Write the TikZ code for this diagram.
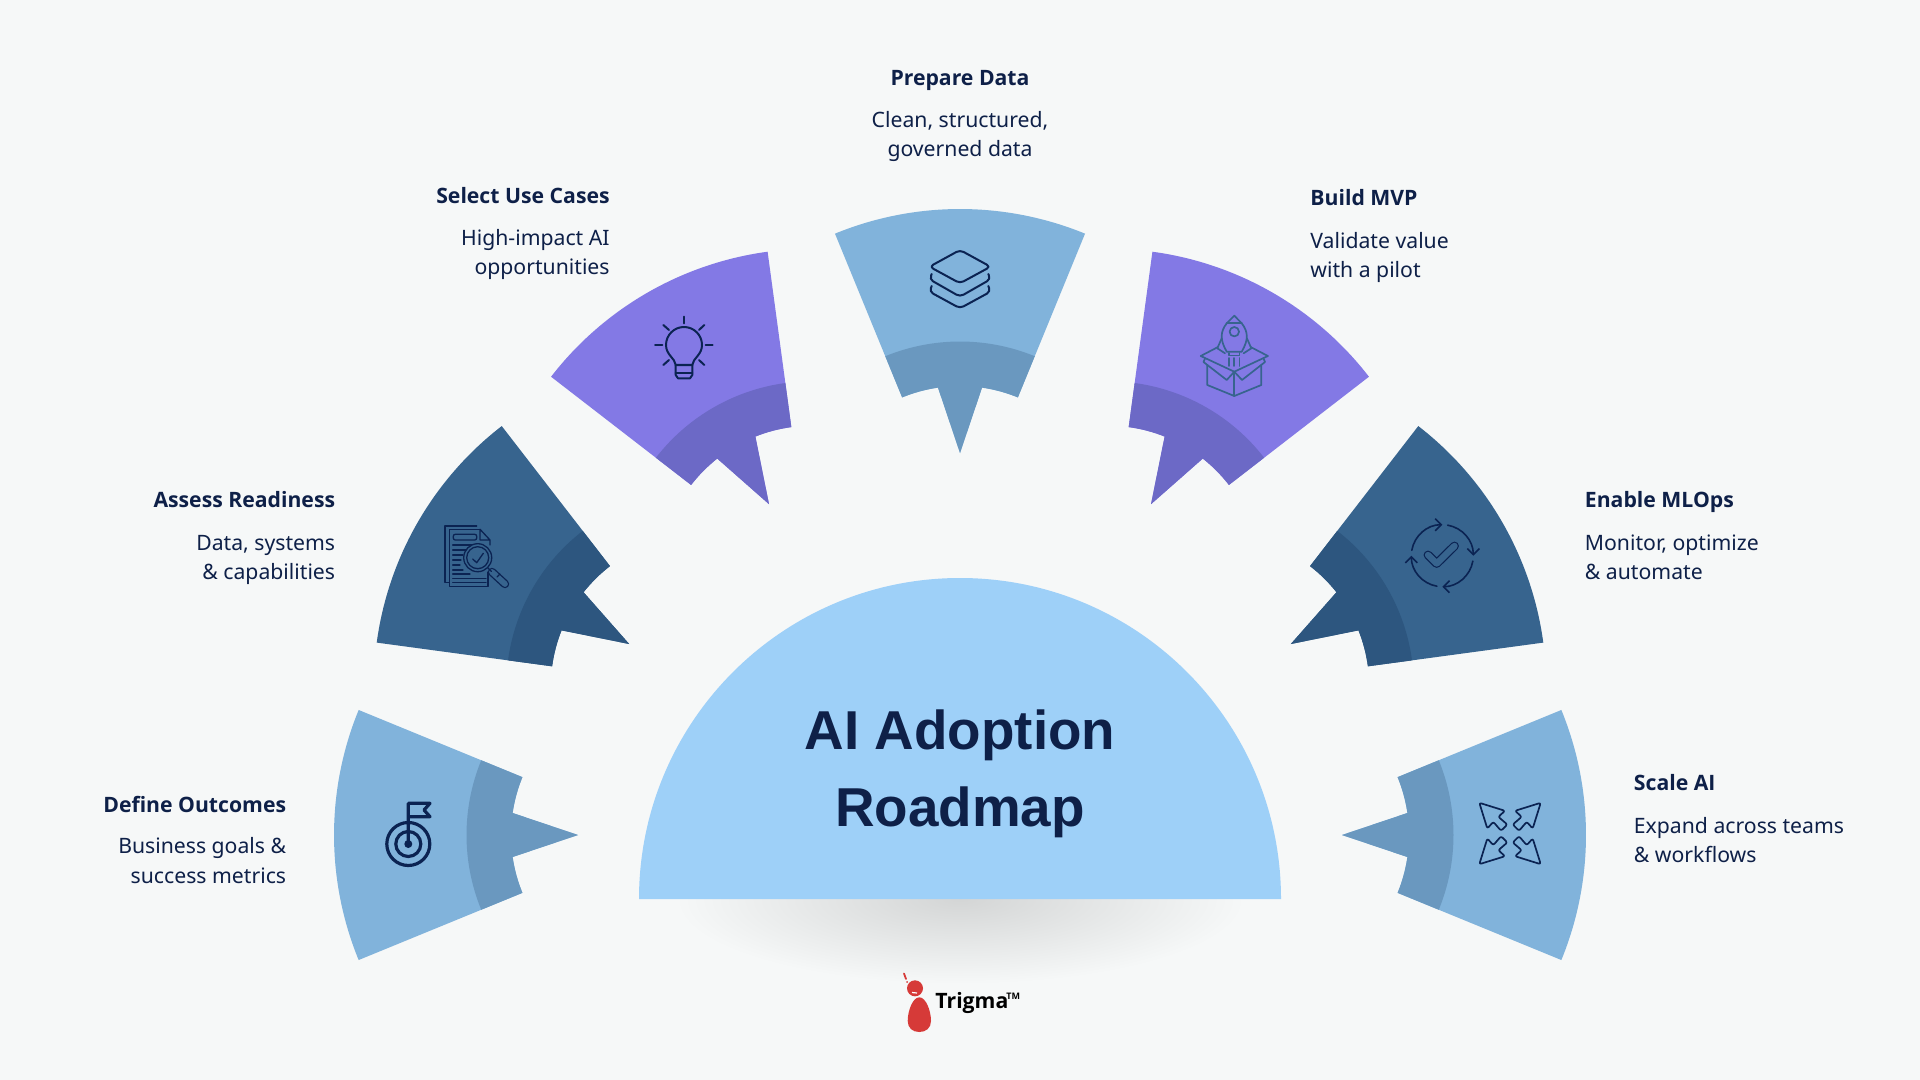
\documentclass[tikz,border=0pt]{standalone}
\usepackage{fontspec}
\setmainfont{Noto Sans}
\newfontfamily\headfont{Open Sans}
\newfontfamily\hubfont{Liberation Sans}
\usetikzlibrary{arrows.meta}

\definecolor{pagebg}{HTML}{F6F8F8}
\definecolor{hubc}{HTML}{9ED0F8}
\definecolor{skyc}{HTML}{81B3DB}
\definecolor{skyd}{HTML}{6A98BF}
\definecolor{navyc}{HTML}{37648E}
\definecolor{navyd}{HTML}{2D567F}
\definecolor{purpc}{HTML}{8379E5}
\definecolor{purpd}{HTML}{6C69C6}
\definecolor{inkc}{HTML}{0E2048}
\definecolor{iconc}{HTML}{0B2352}
\definecolor{logored}{HTML}{D63A38}

\begin{document}
\begin{tikzpicture}[
    x=0.5pt, y=0.5pt, yscale=-1,
    steptitle/.style={font=\headfont\fontsize{10.6}{13}\selectfont\bfseries, text=inkc, inner sep=0pt},
    stepdesc/.style={font=\fontsize{10.6}{14.6}\selectfont, text=inkc, inner sep=0pt},
    iconline/.style={draw=iconc, line width=1pt, line join=round, line cap=round},
    iconthin/.style={draw=iconc, line width=0.65pt, line join=round, line cap=round},
]

\fill[pagebg] (0,0) rectangle (1920,1080);
\useasboundingbox (0,0) rectangle (1920,1080);

% === Shadow under the hub ===
\begin{scope}
    \clip (600,899) rectangle (1320,1010);
    \shade[inner color=black!14!pagebg, outer color=pagebg] (960,899) ellipse (285 and 85);
\end{scope}

% === Hub ===
\fill[hubc] (639,899) arc (180:360:321) -- cycle;
\node[font=\hubfont\fontsize{27.4}{38.4}\selectfont\bfseries, text=inkc, align=center, inner sep=0pt] (hub) at (960,774) {AI Adoption\\Roadmap};

% === Wedges ===
\foreach \ang/\mainc/\shadec in {180/skyc/skyd, 210/navyc/navyd, 240/purpc/purpd, 270/skyc/skyd, 300/purpc/purpd, 330/navyc/navyd, 360/skyc/skyd} {
    \begin{scope}[shift={(960,835)}, rotate=\ang, shift={(296.5,0)}]
        \fill[\mainc] (-22.3:329.5) arc (-22.3:22.3:329.5) -- (22.3:152.5) arc (22.3:8.3:152.5)
            -- (85.5,0) -- (-8.3:152.5) arc (-8.3:-22.3:152.5) -- cycle;
        \fill[\shadec] (-22.3:197) arc (-22.3:22.3:197) -- (22.3:152.5) arc (22.3:8.3:152.5)
            -- (85.5,0) -- (-8.3:152.5) arc (-8.3:-22.3:152.5) -- cycle;
    \end{scope}
}

% === Labels ===
\node[steptitle, anchor=center] (prepT) at (960,80) {Prepare Data};
\node[stepdesc, anchor=center, align=center] (prepD) at (960,136.5) {Clean, structured,\\governed data};

\node[steptitle, anchor=east] (selT) at (610,196) {Select Use Cases};
\node[stepdesc, anchor=east, align=right] (selD) at (610,254.5) {High-impact AI\\opportunities};

\node[steptitle, anchor=west] (mvpT) at (1310,198) {Build MVP};
\node[stepdesc, anchor=west, align=left] (mvpD) at (1310,257.5) {Validate value\\with a pilot};

\node[steptitle, anchor=east] (assT) at (335.5,499.5) {Assess Readiness};
\node[stepdesc, anchor=east, align=right] (assD) at (335.5,560) {Data, systems\\\& capabilities};

\node[steptitle, anchor=west] (mloT) at (1584.5,502) {Enable MLOps};
\node[stepdesc, anchor=west, align=left] (mloD) at (1584.5,557) {Monitor, optimize\\\& automate};

\node[steptitle, anchor=east] (defT) at (286.5,804.5) {Define Outcomes};
\node[stepdesc, anchor=east, align=right] (defD) at (286.5,860.5) {Business goals \&\\success metrics};

\node[steptitle, anchor=west] (sclT) at (1633.5,782.5) {Scale AI};
\node[stepdesc, anchor=west, align=left] (sclD) at (1633.5,840) {Expand across teams\\\& workflows};

% === Target icon ===
\draw[iconline, line width=1.6pt] (408.3,844) circle (21.5);
\draw[iconline, line width=1.6pt] (408.3,844) circle (12.5);
\fill[iconc] (408.3,844) circle (4);
\draw[iconline, line width=1.6pt] (408.3,844) -- (408.3,803.3) -- (430,803.3) -- (424,810) -- (430,816.7) -- (408.3,816.7);

% === Document icon ===
\draw[iconthin] (476.7,526) -- (445,526) -- (445,582.7) -- (449.3,582.7);
\draw[iconthin] (480,529.3) -- (449.3,529.3) -- (449.3,586.7) -- (488,586.7) -- (488,572);
\draw[iconthin] (480,529.3) -- (490,540) -- (490,545) (480,529.3) -- (480,540) -- (490,540);
\draw[iconthin, rounded corners=1] (453.3,534.3) rectangle (476.7,540);
\foreach \yy/\xx in {545/476, 550/472, 555/463, 560/461, 565/460, 570/463, 574/470, 578.5/486, 582.7/486}
    \draw[iconthin] (452.7,\yy) -- (\xx,\yy);
\draw[iconthin, fill=navyc] (477.7,557.7) circle (14);
\draw[iconthin] (477.7,557.7) circle (11);
\draw[iconthin] (472.7,559) -- (476.7,562.7) -- (483.3,553.3);
\draw[iconc, line width=4.2pt, line cap=round] (492,572) -- (505,584);
\draw[navyc, line width=2.9pt, line cap=round] (492,572) -- (505,584);
\draw[iconthin] (488,568) -- (491.5,571.5) (497,577) -- (500,574);

% === Bulb icon ===
\draw[iconline] (675.7,365) .. controls (675,358) and (666,355) .. (666,345) arc (180:360:18)
    .. controls (702,355) and (693,358) .. (692.3,365) -- cycle;
\draw[iconline] (675.7,365) -- (675.7,375) -- (678,378.3) -- (690,378.3) -- (692.3,375) -- (692.3,365);
\draw[iconline] (675.7,372.7) -- (692.3,372.7);
\foreach \xa/\ya/\xb/\yb in {684/316.7/684/323.3, 705.7/345/712.7/345, 655/345/662.3/345, 663.3/325/669/330, 704.3/325/699/330, 663.3/365/669/360, 704.3/365/699/360}
    \draw[iconline] (\xa,\ya) -- (\xb,\yb);

% === Layers icon ===
\draw[iconline, rounded corners=2] (960,250) -- (990.5,266.7) -- (960,283.3) -- (929.5,266.7) -- cycle;
\draw[iconline, rounded corners=2] (931.7,274) -- (929.5,279.3) -- (960,296.7) -- (990.5,279.3) -- (988.3,274);
\draw[iconline, rounded corners=2] (931.7,286) -- (929.5,291.7) -- (960,308.3) -- (990.5,291.7) -- (988.3,286);

% === Rocket icon ===
\begin{scope}[line width=0.85pt, line join=round, line cap=round]
    \draw[navyc] (1226.7,351.7) .. controls (1220,340) and (1220,332) .. (1226.7,323.3) -- (1234.3,315.7) -- (1241.7,323.3)
        .. controls (1248.5,332) and (1248.5,340) .. (1241.7,351.7) -- cycle;
    \draw[navyc] (1226.7,323.3) -- (1241.7,323.3);
    \draw[navyc] (1234.3,331.7) circle (4.7);
    \draw[navyc] (1221.7,338.3) -- (1217.3,348.3) -- (1225,353.3) (1246.9,338.3) -- (1251.3,348.3) -- (1243.6,353.3);
    \draw[navyc] (1229,353) -- (1229,355.5) -- (1239.6,355.5) -- (1239.6,353);
    \foreach \xx in {1229,1234.3,1239.6}
        \draw[navyc] (\xx,358) -- (\xx,366);
    \draw[navyc] (1218,347) -- (1200.7,356) -- (1234.3,371.7) -- (1267.9,356) -- (1250.6,347);
    \draw[navyc] (1205,358.5) -- (1203.5,362) -- (1226.7,380) -- (1234.3,371.7) -- (1242,380) -- (1265,362) -- (1263.5,358.5);
    \draw[navyc] (1207.3,365) -- (1207.3,385) -- (1234.3,396) -- (1261.3,385) -- (1261.3,365);
    \draw[navyc] (1234.3,371.7) -- (1234.3,396);
\end{scope}

% === Cycle check icon ===
\foreach \a in {10,100,190,280}
    \draw[iconthin, line width=0.8pt, -{Straight Barb[length=3pt, width=6pt]}] (\a:31) ++(1442.3,555.7) arc (\a:\a+80:31);
\draw[iconc, line width=4.4pt, line cap=round, line join=round] (1428,555) -- (1436.7,563.5) -- (1454.5,546);
\draw[navyc, line width=3.2pt, line cap=round, line join=round] (1428,555) -- (1436.7,563.5) -- (1454.5,546);

% === Scale arrows icon ===
\foreach \r in {0,90,180,270} {
    \begin{scope}[shift={(1510,833.5)}, rotate=\r]
        \draw[iconthin, line width=0.85pt, rounded corners=1] (-30.7,-30.7) -- (-5,-22.7) -- (-11.7,-16.7) -- (-2.7,-9)
            -- (-9,-2.7) -- (-16.7,-11.7) -- (-22.7,-5) -- cycle;
    \end{scope}
}

% === Logo ===
\fill[logored] (915,988.3) circle (8);
\fill[logored] (919.3,997.3) .. controls (926,997.3) and (931,1011) .. (931,1021) .. controls (931,1028) and (926,1032) .. (919.3,1032)
    .. controls (912.6,1032) and (907.7,1028) .. (907.7,1021) .. controls (907.7,1011) and (912.6,997.3) .. (919.3,997.3) -- cycle;
\draw[logored, line width=0.9pt, line cap=round] (904,973.5) -- (906,979);
\fill[logored] (907,982) circle (1);
\draw[white, line width=0.6pt] (912,992.5) -- (917,993);
\node[font=\headfont\fontsize{10.6}{14}\selectfont\bfseries, text=black, anchor=west, inner sep=0pt] (logoT) at (935,1002.5) {Trigma};
\node[font=\headfont\fontsize{4.5}{5}\selectfont\bfseries, text=black, anchor=west, inner sep=0pt] (logoM) at (1006,996) {TM};

\end{tikzpicture}
\end{document}
